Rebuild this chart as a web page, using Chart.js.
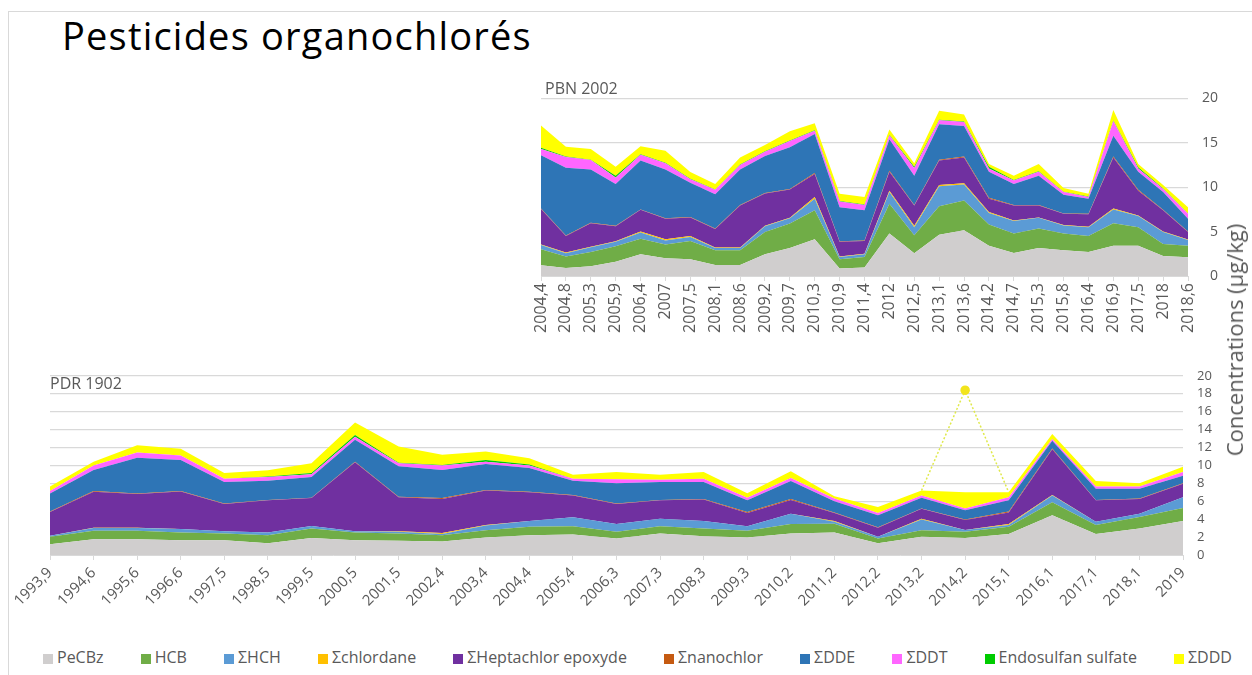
<!DOCTYPE html>
<html>
<head>
<meta charset="utf-8">
<script src="https://cdn.jsdelivr.net/npm/chart.js@4.4.0/dist/chart.umd.min.js"></script>
<style>
  html, body { margin: 0; padding: 0; background: #fff; }
  #page { position: relative; width: 1252px; height: 675px; overflow: hidden; font-family: 'Open Sans', sans-serif; }
  .frame { position: absolute; left: 8px; top: 11px; width: 1400px; height: 800px; border-top: 1px solid #d9d9d9; border-left: 1px solid #d9d9d9; }
  #title { position: absolute; left: 62px; top: 16px; font-size: 38px; letter-spacing: 1.2px; line-height: 1; color: #000; white-space: nowrap; }
  .sub { position: absolute; font-size: 16px; line-height: 16px; color: #595959; white-space: nowrap; }
  #ytitle { position: absolute; left: 1234px; top: 340px; transform: translate(-50%, -50%) rotate(-90deg); font-size: 22px; line-height: 1; color: #595959; white-space: nowrap; }
  #pbnChart { position: absolute; left: 530px; top: 76px; }
  #pdrChart { position: absolute; left: 0; top: 354px; }
  #legend { position: absolute; left: 43px; top: 647px; width: 1189px; display: flex; justify-content: space-between; font-size: 16px; line-height: 20px; color: #595959; }
  #legend span.box { display: inline-block; width: 10px; height: 10px; margin-right: 4px; vertical-align: -1px; }
</style>
</head>
<body>
<div id="page">
  <div class="frame"></div>
  <div id="title">Pesticides organochlorés</div>
  <canvas id="pbnChart" width="700" height="274"></canvas>
  <canvas id="pdrChart" width="1252" height="266"></canvas>
  <div class="sub" style="left:545px; top:80px;">PBN 2002</div>
  <div class="sub" style="left:50px; top:375px;">PDR 1902</div>
  <div id="ytitle">Concentrations (µg/kg)</div>
  <div id="legend"></div>
</div>
<script>
// series shared by both charts
const seriesNames = ['PeCBz', 'HCB', 'ΣHCH', 'Σchlordane', 'ΣHeptachlor epoxyde', 'Σnanochlor', 'ΣDDE', 'ΣDDT', 'Endosulfan sulfate', 'ΣDDD'];
const seriesColors = ['#d0cece', '#70ad47', '#5b9bd5', '#ffc000', '#7030a0', '#c55a11', '#2e75b6', '#ff66ff', '#00cc00', '#ffff00'];

// PBN 2002 (top chart)
const pbnLabels = ['2004,4', '2004,8', '2005,3', '2005,9', '2006,4', '2007', '2007,5', '2008,1', '2008,6', '2009,2', '2009,7', '2010,3', '2010,9', '2011,4', '2012', '2012,5', '2013,1', '2013,6', '2014,2', '2014,7', '2015,3', '2015,8', '2016,4', '2016,9', '2017,5', '2018', '2018,6'];
const pbnPeCBz = [1.2, 0.9, 1.1, 1.6, 2.45, 2.0, 1.9, 1.25, 1.25, 2.45, 3.15, 4.15, 0.85, 0.95, 4.8, 2.55, 4.65, 5.15, 3.4, 2.6, 3.15, 2.9, 2.7, 3.4, 3.4, 2.25, 2.1];
const pbnHCB = [1.8, 1.3, 1.6, 1.75, 1.75, 1.55, 2.05, 1.65, 1.65, 2.5, 2.75, 3.25, 1.05, 1.2, 3.35, 2.05, 3.2, 3.35, 2.4, 2.2, 2.2, 1.9, 1.8, 2.55, 2.1, 1.35, 1.3];
const pbnHCH = [0.5, 0.35, 0.55, 0.5, 0.7, 0.45, 0.45, 0.25, 0.25, 0.65, 0.6, 1.3, 0.25, 0.3, 1.3, 0.9, 2.25, 1.8, 1.3, 1.4, 1.2, 0.9, 1.0, 1.55, 1.25, 1.35, 0.65];
const pbnChlordane = [0.05, 0.1, 0.05, 0.05, 0.1, 0.15, 0.1, 0.05, 0.05, 0.05, 0.05, 0.2, 0.05, 0.05, 0.15, 0.15, 0.15, 0.15, 0.1, 0.05, 0.05, 0.05, 0.05, 0.1, 0.05, 0.05, 0.05];
const pbnHeptachlor = [4.0, 1.85, 2.65, 1.7, 2.45, 2.3, 2.1, 2.1, 4.75, 3.65, 3.2, 2.6, 1.65, 1.45, 2.15, 2.3, 2.75, 2.9, 1.5, 1.7, 1.35, 1.25, 1.4, 5.75, 2.8, 2.4, 0.85];
const pbnNanochlor = [0.05, 0.05, 0.05, 0.05, 0.05, 0.05, 0.05, 0.05, 0.05, 0.05, 0.05, 0.1, 0.05, 0.05, 0.1, 0.05, 0.1, 0.1, 0.1, 0.05, 0.05, 0.05, 0.05, 0.1, 0.1, 0.05, 0.05];
const pbnDDE = [6.0, 7.65, 6.0, 4.7, 5.5, 5.5, 3.85, 3.85, 4.0, 4.15, 4.7, 4.4, 3.85, 3.4, 3.55, 3.3, 4.0, 3.45, 2.95, 2.35, 3.3, 2.1, 1.7, 2.35, 2.05, 2.0, 1.45];
const pbnDDT = [0.7, 1.2, 1.05, 0.75, 0.65, 0.7, 0.4, 0.5, 0.5, 0.5, 0.7, 0.35, 0.65, 0.6, 0.45, 0.85, 0.45, 0.45, 0.35, 0.4, 0.45, 0.3, 0.2, 1.65, 0.35, 0.35, 0.55];
const pbnEndosulfan = [0.15, 0.05, 0.05, 0.2, 0.05, 0.05, 0.05, 0.05, 0.05, 0.05, 0.05, 0.05, 0.05, 0.05, 0.05, 0.15, 0.05, 0.05, 0.2, 0.05, 0.05, 0.05, 0.05, 0.05, 0.15, 0.05, 0.05];
const pbnDDD = [2.5, 1.1, 1.2, 1.0, 0.9, 1.35, 0.75, 0.6, 0.8, 0.7, 1.05, 0.8, 0.8, 0.85, 0.6, 0.4, 1.0, 0.8, 0.3, 0.5, 0.8, 0.4, 0.3, 1.2, 0.35, 0.4, 0.7];

// PDR 1902 (bottom chart)
const pdrLabels = ['1993,9', '1994,6', '1995,6', '1996,6', '1997,5', '1998,5', '1999,5', '2000,5', '2001,5', '2002,4', '2003,4', '2004,4', '2005,4', '2006,3', '2007,3', '2008,3', '2009,3', '2010,2', '2011,2', '2012,2', '2013,2', '2014,2', '2015,1', '2016,1', '2017,1', '2018,1', '2019'];
const pdrPeCBz = [1.2, 1.75, 1.75, 1.65, 1.65, 1.3, 1.9, 1.65, 1.6, 1.5, 1.95, 2.2, 2.3, 1.85, 2.4, 2.1, 1.95, 2.4, 2.5, 1.3, 2.05, 1.9, 2.35, 4.45, 2.35, 2.95, 3.8];
const pdrHCB = [0.85, 0.95, 0.95, 0.85, 0.75, 0.9, 1.05, 0.85, 0.8, 0.7, 0.8, 0.95, 0.9, 0.75, 0.8, 0.85, 0.75, 1.05, 1.0, 0.55, 0.7, 0.7, 0.8, 1.45, 1.0, 1.3, 1.45];
const pdrHCH = [0.1, 0.3, 0.3, 0.4, 0.25, 0.3, 0.3, 0.15, 0.2, 0.15, 0.55, 0.65, 1.0, 0.85, 0.85, 0.85, 0.5, 1.15, 0.2, 0.2, 1.2, 0.2, 0.2, 0.75, 0.35, 0.35, 1.2];
const pdrChlordane = [0, 0.05, 0.05, 0, 0, 0, 0, 0, 0.05, 0.1, 0.05, 0, 0, 0, 0, 0, 0, 0, 0.1, 0, 0.1, 0, 0.1, 0.05, 0, 0, 0];
const pdrHeptachlor = [2.65, 4.0, 3.75, 4.2, 3.05, 3.6, 3.1, 7.7, 3.8, 3.8, 3.85, 3.2, 2.45, 2.25, 2.05, 2.4, 1.5, 1.55, 0.9, 1.0, 1.1, 1.1, 1.3, 5.1, 2.4, 1.65, 1.5];
const pdrNanochlor = [0.05, 0.1, 0.05, 0.05, 0.05, 0.05, 0.05, 0.05, 0.05, 0.1, 0.05, 0.05, 0.05, 0.05, 0.05, 0.05, 0.1, 0.1, 0.05, 0.05, 0.05, 0.05, 0.1, 0.1, 0.05, 0.05, 0.05];
const pdrDDE = [2.0, 2.35, 4.0, 3.45, 2.4, 2.15, 2.3, 2.45, 3.4, 3.15, 2.9, 2.65, 1.6, 2.25, 2.0, 1.9, 1.3, 2.0, 1.25, 1.35, 1.2, 1.05, 1.25, 0.85, 1.25, 1.1, 0.85];
const pdrDDT = [0.3, 0.5, 0.6, 0.5, 0.35, 0.4, 0.3, 0.35, 0.35, 0.5, 0.25, 0.3, 0.2, 0.45, 0.25, 0.35, 0.3, 0.35, 0.3, 0.25, 0.25, 0.2, 0.35, 0.2, 0.25, 0.25, 0.4];
const pdrEndosulfan = [0, 0, 0, 0, 0, 0.05, 0.15, 0.2, 0.05, 0.05, 0.2, 0.1, 0, 0, 0, 0, 0, 0, 0, 0, 0, 0, 0, 0, 0, 0, 0];
const pdrDDD = [0.5, 0.4, 0.8, 0.75, 0.65, 0.7, 1.1, 1.4, 1.8, 1.15, 0.95, 0.7, 0.45, 0.8, 0.55, 0.75, 0.5, 0.75, 0.25, 0.65, 0.55, 1.8, 0.55, 0.55, 0.6, 0.35, 0.6];
// dotted outlier line around 2014,2
const pdrOutlier = [null, null, null, null, null, null, null, null, null, null, null, null, null, null, null, null, null, null, null, null, 7.2, 18.4, 7.0, null, null, null, null];
const pdrOutlierMarker = [0, 0, 0, 0, 0, 0, 0, 0, 0, 0, 0, 0, 0, 0, 0, 0, 0, 0, 0, 0, 0, 4, 0, 0, 0, 0, 0];

Chart.defaults.font.family = "'Open Sans', sans-serif";
Chart.defaults.color = '#595959';

function areaSets(values) {
  return values.map((v, i) => ({
    label: seriesNames[i],
    data: v,
    backgroundColor: seriesColors[i],
    borderColor: seriesColors[i],
    borderWidth: 0,
    pointRadius: 0,
    tension: 0,
    fill: i === 0 ? 'origin' : '-1'
  }));
}

function xScale(rotation, height, pad, size) {
  return {
    grid: { drawOnChartArea: false, drawTicks: true, tickLength: 5, color: '#d9d9d9' },
    border: { display: true, color: '#d9d9d9' },
    ticks: { autoSkip: false, minRotation: rotation, maxRotation: rotation, padding: pad, color: '#595959', font: { size: size } },
    afterFit: (s) => { s.height = height; }
  };
}

// top chart
new Chart(document.getElementById('pbnChart'), {
  type: 'line',
  data: {
    labels: pbnLabels,
    datasets: areaSets([pbnPeCBz, pbnHCB, pbnHCH, pbnChlordane, pbnHeptachlor, pbnNanochlor, pbnDDE, pbnDDT, pbnEndosulfan, pbnDDD])
  },
  options: {
    responsive: false,
    animation: false,
    layout: { padding: { left: 11, top: 12, right: 12, bottom: 0 } },
    plugins: { legend: { display: false }, tooltip: { enabled: false } },
    scales: {
      x: xScale(90, 74, 2, 16),
      y: {
        position: 'right',
        stacked: true,
        min: 0,
        max: 20,
        ticks: { stepSize: 5, autoSkip: false, crossAlign: 'far', padding: 14, color: '#595959', font: { size: 14 } },
        grid: { color: '#d9d9d9', lineWidth: 1.3, drawTicks: false },
        border: { display: false },
        afterFit: (s) => { s.width = 30; }
      }
    }
  }
});

// bottom chart
const pdrSets = areaSets([pdrPeCBz, pdrHCB, pdrHCH, pdrChlordane, pdrHeptachlor, pdrNanochlor, pdrDDE, pdrDDT, pdrEndosulfan, pdrDDD]);
pdrSets.push({
  label: 'outlier',
  data: pdrOutlier,
  stack: 'outlier',
  fill: false,
  borderColor: '#dfe94a',
  borderWidth: 1.5,
  borderDash: [2, 2],
  pointRadius: pdrOutlierMarker,
  pointBackgroundColor: '#f2e41c',
  pointBorderColor: '#f2e41c',
  tension: 0
});

new Chart(document.getElementById('pdrChart'), {
  type: 'line',
  data: { labels: pdrLabels, datasets: pdrSets },
  options: {
    responsive: false,
    animation: false,
    layout: { padding: { left: 50, top: 15, right: 28, bottom: 0 } },
    plugins: { legend: { display: false }, tooltip: { enabled: false } },
    scales: {
      x: xScale(45, 65, 4, 15),
      y: {
        position: 'right',
        stacked: true,
        min: 0,
        max: 20,
        ticks: { stepSize: 2, autoSkip: false, padding: 14, color: '#595959', font: { size: 13 } },
        grid: { color: '#d9d9d9', lineWidth: 1.3, drawTicks: false },
        border: { display: false },
        afterFit: (s) => { s.width = 41; }
      }
    }
  }
});

// legend shared by both charts
const legendDiv = document.getElementById('legend');
seriesNames.forEach((name, i) => {
  const item = document.createElement('div');
  item.innerHTML = '<span class="box" style="background:' + seriesColors[i] + '"></span>' + name;
  legendDiv.appendChild(item);
});
</script>
</body>
</html>
